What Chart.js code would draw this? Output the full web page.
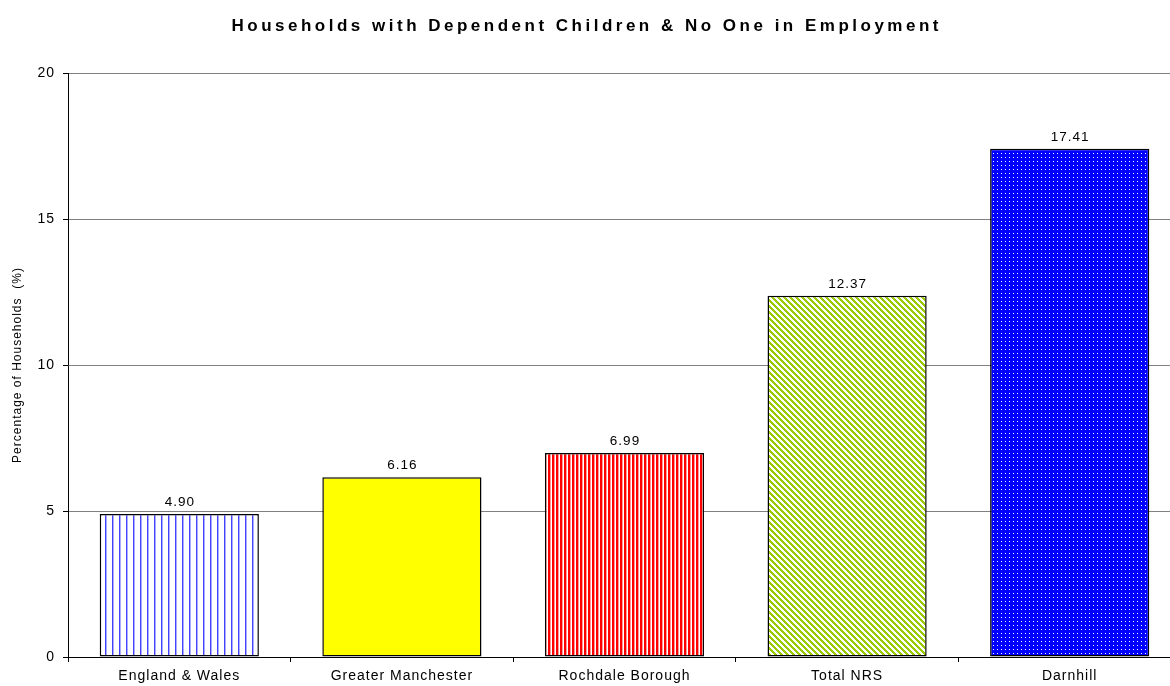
<!DOCTYPE html>
<html>
<head>
<meta charset="utf-8">
<script src="https://cdn.jsdelivr.net/npm/chart.js@4"></script>
<style>
  html, body { margin: 0; background: #fff; overflow: hidden; }
  .chart { position: relative; width: 1182px; height: 686px; }
</style>
</head>
<body>
<div class="chart"><canvas id="chart"></canvas></div>
<script>
const categories = ["England & Wales", "Greater Manchester", "Rochdale Borough", "Total NRS", "Darnhill"];
const values = [4.90, 6.16, 6.99, 12.37, 17.41];
const yTicks = [0, 5, 10, 15, 20];
const chartTitle = "Households with Dependent Children & No One in Employment";
const yTitle = "Percentage of Households  (%)";

const FONT = "Arial, 'Liberation Sans', sans-serif";

// little tiles used as bar fills
function makePattern(w, h, draw) {
    const c = document.createElement("canvas");
    c.width = w;
    c.height = h;
    const g = c.getContext("2d");
    draw(g);
    return document.createElement("canvas").getContext("2d").createPattern(c, "repeat");
}

const vStripesBlue = makePattern(7, 7, g => {
    g.fillStyle = "#fff";
    g.fillRect(0, 0, 7, 7);
    g.fillStyle = "#4444ff";
    g.fillRect(0, 0, 1, 7);
    g.fillStyle = "#aaaaff";
    g.fillRect(1, 0, 1, 7);
});

const vStripesRed = makePattern(4, 4, g => {
    g.fillStyle = "#ff0000";
    g.fillRect(0, 0, 4, 4);
    g.fillStyle = "#fff";
    g.fillRect(3, 0, 1, 4);
    g.fillStyle = "#ff9999";
    g.fillRect(2, 0, 1, 4);
});

const diagGreen = makePattern(6, 6, g => {
    g.fillStyle = "#fff";
    g.fillRect(0, 0, 6, 6);
    g.fillStyle = "#99cc00";
    for (let i = 0; i < 6; i++) {
        g.fillRect(i, i, 3, 1);
        g.fillRect(i - 6, i, 3, 1);
    }
});

const dotsBlue = makePattern(4, 4, g => {
    g.fillStyle = "#0000ff";
    g.fillRect(0, 0, 4, 4);
    g.fillStyle = "#ffffff";
    g.fillRect(1, 1, 1, 1);
});

const fills = [vStripesBlue, "#ffff00", vStripesRed, diagGreen, dotsBlue];

const textPlugin = {
    id: "excelText",
    beforeUpdate(chart) {
        chart.ctx.letterSpacing = "1px";
    },
    beforeDraw(chart) {
        const { ctx } = chart;
        ctx.letterSpacing = "1px";
        ctx.save();
        ctx.fillStyle = "#fff";
        ctx.fillRect(0, 0, chart.width, chart.height);
        ctx.restore();
    },
    afterDraw(chart) {
        const { ctx } = chart;
        ctx.save();
        // title, centred on the visible 1170px
        ctx.letterSpacing = "3.5px";
        ctx.font = "bold 17px " + FONT;
        ctx.fillStyle = "#000";
        ctx.textAlign = "center";
        ctx.textBaseline = "middle";
        ctx.fillText(chartTitle, 585 + 1.75, 26);

        // value labels
        ctx.letterSpacing = "1px";
        ctx.font = "13.5px " + FONT;
        ctx.textBaseline = "bottom";
        const meta = chart.getDatasetMeta(0);
        meta.data.forEach((bar, i) => {
            ctx.fillText(values[i].toFixed(2), bar.x + 0.5, bar.y - 5);
        });
        ctx.restore();
    },
};

new Chart(document.getElementById("chart"), {
    type: "bar",
    data: {
        labels: categories,
        datasets: [
            {
                data: values,
                backgroundColor: fills,
                borderColor: "#000",
                borderWidth: 1.5,
                borderSkipped: false,
                categoryPercentage: 1,
                barPercentage: 0.715,
            },
        ],
    },
    options: {
        responsive: true,
        maintainAspectRatio: false,
        animation: false,
        layout: {
            padding: { top: 73, right: 1, left: 0, bottom: 0 },
        },
        plugins: {
            legend: { display: false },
            title: { display: false },
            tooltip: { enabled: false },
        },
        scales: {
            x: {
                afterFit: scale => { scale.height = 29; },
                grid: {
                    offset: true,
                    drawOnChartArea: false,
                    drawTicks: true,
                    tickLength: 5,
                    color: "#000",
                    tickColor: "#000",
                },
                border: { color: "#000", width: 1 },
                ticks: {
                    color: "#000",
                    font: { family: FONT, size: 14 },
                    padding: 6,
                    maxRotation: 0,
                },
            },
            y: {
                min: yTicks[0],
                max: yTicks[yTicks.length - 1],
                afterFit: scale => { scale.width = 68; },
                afterBuildTicks: scale => {
                    scale.ticks = yTicks.map(v => ({ value: v }));
                },
                grid: {
                    color: c => (c.tick && c.tick.value === 0 ? "#000" : "#808080"),
                    tickColor: "#000",
                    tickLength: 5,
                    lineWidth: 1,
                },
                border: { color: "#000", width: 1 },
                ticks: {
                    color: "#000",
                    font: { family: FONT, size: 14 },
                    padding: 8,
                },
                title: {
                    display: true,
                    text: yTitle,
                    color: "#000",
                    font: { family: FONT, size: 12 },
                    padding: { top: 10, bottom: 0 },
                },
            },
        },
    },
    plugins: [textPlugin],
});
</script>
</body>
</html>
